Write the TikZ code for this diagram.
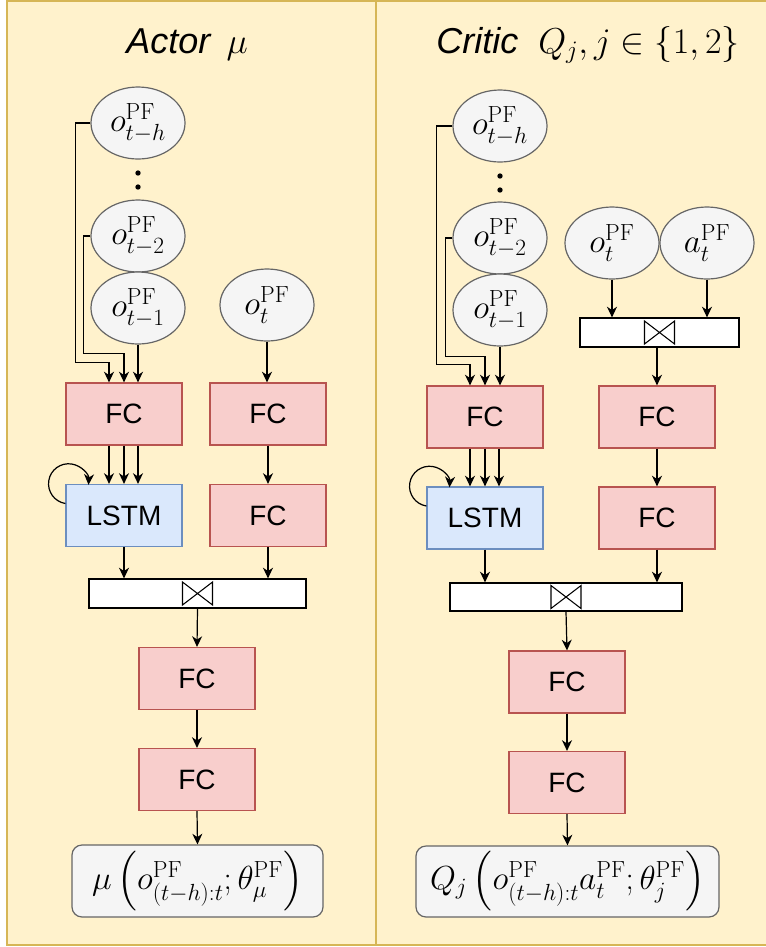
\RequirePackage{fix-cm}
\documentclass[tikz,border=0pt]{standalone}
\usepackage{fontspec}
\setsansfont{Liberation Sans}
\usepackage{amsmath}
\usetikzlibrary{arrows.meta,shapes.geometric}
\definecolor{panelfill}{HTML}{FFF2CC}
\definecolor{paneldraw}{HTML}{D6B656}
\definecolor{fcfill}{HTML}{F8CECC}
\definecolor{fcdraw}{HTML}{B85450}
\definecolor{lstmfill}{HTML}{DAE8FC}
\definecolor{lstmdraw}{HTML}{6C8EBF}
\definecolor{obsfill}{HTML}{F5F5F5}
\definecolor{obsdraw}{HTML}{666666}

\begin{document}
\begin{tikzpicture}[x=0.75pt,y=-0.75pt,->,>={Stealth[length=8pt,width=7.5pt,inset=2.5pt]},line width=0.9pt,
    obs/.style={ellipse,draw=obsdraw,fill=obsfill,minimum width=70.5pt,minimum height=54pt,inner sep=0pt,font=\fontsize{25}{30}\selectfont},
    fc/.style={rectangle,draw=fcdraw,fill=fcfill,minimum width=87pt,minimum height=46.5pt,inner sep=0pt,font=\sffamily\fontsize{21}{25}\selectfont},
    lstm/.style={fc,draw=lstmdraw,fill=lstmfill},
    concat/.style={rectangle,draw=black,fill=white,minimum height=21.75pt,inner sep=0pt,
        path picture={\draw[-,line width=0.8pt] ([shift={(-11.25pt,8.6pt)}]path picture bounding box.center)
            -- ++(22.5pt,-17.2pt) -- ++(0,17.2pt) -- ++(-22.5pt,-17.2pt) -- cycle;}},
    outbox/.style={rectangle,rounded corners=7.5pt,draw=obsdraw,fill=obsfill,minimum height=54pt,inner sep=0pt,font=\fontsize{25}{30}\selectfont},
    title/.style={font=\sffamily\itshape\fontsize{27}{32}\selectfont}]
    \useasboundingbox (0,0) rectangle (765,947);
    % panels
    \draw[-,fill=panelfill,draw=paneldraw,line width=1.5pt] (7,1) rectangle (376,945);
    \draw[-,fill=panelfill,draw=paneldraw,line width=1.5pt] (376,1) rectangle (768,945);
    \node[title] (titleA) at (187,45) {Actor\hspace{0.45em}$\mu$};
    \node[title] (titleC) at (588,45) {Critic\ \ $Q_j, j\in\{1,2\}$};

    % actor
    \node[obs] (ohA) at (138,123) {$o^{\mathrm{PF}}_{t-h}$};
    \fill (138,173) circle[radius=2pt] (138,187) circle[radius=2pt];
    \node[obs] (o2A) at (138,236) {$o^{\mathrm{PF}}_{t-2}$};
    \node[obs] (o1A) at (138,308) {$o^{\mathrm{PF}}_{t-1}$};
    \node[obs] (otA) at (267,305) {$o^{\mathrm{PF}}_{t}$};
    \node[fc] (fcA1) at (124,414) {FC};
    \node[fc] (fcA2) at (268,414) {FC};
    \node[lstm] (lstmA) at (124,515.5) {LSTM};
    \node[fc] (fcA3) at (268,515.5) {FC};
    \node[concat,minimum width=162.75pt] (catA) at (197.5,593.5) {};
    \node[fc] (fcA4) at (197,678.5) {FC};
    \node[fc] (fcA5) at (197,779.5) {FC};
    \node[outbox,minimum width=188.25pt] (outA) at (197.5,881)
        {$\mu\,\Big(o^{\mathrm{PF}}_{(t-h):t};\theta^{\mathrm{PF}}_{\mu}\Big)$};

    \draw (ohA.west) -- ++(-11.25pt,0) |- ([shift={(-11.25pt,15pt)}]fcA1.north) -- ([xshift=-11.25pt]fcA1.north);
    \draw (o2A.west) -- ++(-5.25pt,0) |- ([yshift=21.75pt]fcA1.north) -- (fcA1.north);
    \draw (o1A.south) -- (o1A.south |- fcA1.north);
    \draw (otA.south) -- (otA.south |- fcA2.north);
    \draw ([xshift=-11.25pt]fcA1.south) -- ([xshift=-11.25pt]lstmA.north);
    \draw (fcA1.south) -- (lstmA.north);
    \draw ([xshift=10.5pt]fcA1.south) -- ([xshift=10.5pt]lstmA.north);
    \draw ([shift={(0,-12)}]lstmA.west) arc[start angle=261,end angle=-3,radius=15pt];
    \draw (fcA2.south) -- (fcA3.north);
    \draw (lstmA.south) -- (lstmA.south |- catA.north);
    \draw (fcA3.south) -- (fcA3.south |- catA.north);
    \draw (catA.south) -- (fcA4.north);
    \draw (fcA4.south) -- (fcA5.north);
    \draw (fcA5.south) -- (outA.north);

    % critic
    \node[obs] (ohC) at (500,126) {$o^{\mathrm{PF}}_{t-h}$};
    \fill (500,176) circle[radius=2pt] (500,190) circle[radius=2pt];
    \node[obs] (o2C) at (500,238) {$o^{\mathrm{PF}}_{t-2}$};
    \node[obs] (o1C) at (500,310) {$o^{\mathrm{PF}}_{t-1}$};
    \node[obs] (otC) at (612,243) {$o^{\mathrm{PF}}_{t}$};
    \node[obs] (atC) at (707,243) {$a^{\mathrm{PF}}_{t}$};
    \node[concat,minimum width=119.25pt] (catC1) at (659.5,332.5) {};
    \node[fc] (fcC1) at (485,417) {FC};
    \node[fc] (fcC2) at (657,417) {FC};
    \node[lstm] (lstmC) at (485,518) {LSTM};
    \node[fc] (fcC3) at (657,518) {FC};
    \node[concat,minimum width=174pt,minimum height=21pt] (catC2) at (566,597) {};
    \node[fc] (fcC4) at (567,682) {FC};
    \node[fc] (fcC5) at (567,782.5) {FC};
    \node[outbox,minimum width=227.25pt,minimum height=53.25pt] (outC) at (567.5,881.5)
        {$Q_j\,\Big(o^{\mathrm{PF}}_{(t-h):t}a^{\mathrm{PF}}_{t};\theta^{\mathrm{PF}}_{j}\Big)$};

    \draw (ohC.west) -- ++(-12pt,0) |- ([shift={(-11.25pt,15.75pt)}]fcC1.north) -- ([xshift=-11.25pt]fcC1.north);
    \draw (o2C.west) -- ++(-5.25pt,0) |- ([yshift=21.75pt]fcC1.north) -- (fcC1.north);
    \draw (o1C.south) -- (o1C.south |- fcC1.north);
    \draw (otC.south) -- (otC.south |- catC1.north);
    \draw (atC.south) -- (atC.south |- catC1.north);
    \draw (fcC2.north |- catC1.south) -- (fcC2.north);
    \draw ([xshift=-11.25pt]fcC1.south) -- ([xshift=-11.25pt]lstmC.north);
    \draw (fcC1.south) -- (lstmC.north);
    \draw ([xshift=10.5pt]fcC1.south) -- ([xshift=10.5pt]lstmC.north);
    \draw ([shift={(0,-12)}]lstmC.west) arc[start angle=261,end angle=-3,radius=15pt];
    \draw (fcC2.south) -- (fcC3.north);
    \draw (lstmC.south) -- (lstmC.south |- catC2.north);
    \draw (fcC3.south) -- (fcC3.south |- catC2.north);
    \draw (catC2.south) -- (fcC4.north);
    \draw (fcC4.south) -- (fcC5.north);
    \draw (fcC5.south) -- (outC.north);
\end{tikzpicture}
\end{document}
